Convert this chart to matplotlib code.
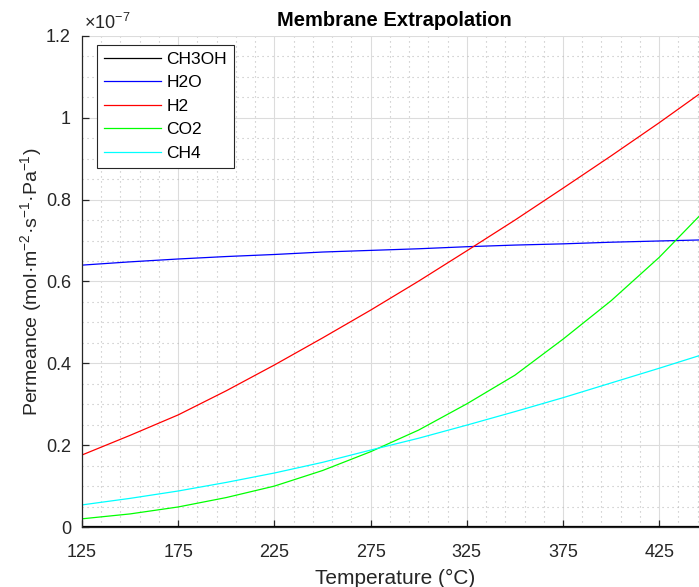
import matplotlib.pyplot as plt
from matplotlib.ticker import FixedLocator, MultipleLocator, FuncFormatter

plt.rcParams['font.family'] = ['Liberation Sans', 'DejaVu Sans']
plt.rcParams['mathtext.fontset'] = 'custom'
plt.rcParams['mathtext.rm'] = 'Liberation Sans'
plt.rcParams['mathtext.it'] = 'Liberation Sans:italic'

# Temperature points (°C)
temperatura = [125, 150, 175, 200, 225, 250, 275, 300, 325, 350, 375, 400, 425, 450]

# Permeance per species (x 1e-7 mol m^-2 s^-1 Pa^-1)
ch3oh = [0.003, 0.003, 0.003, 0.003, 0.003, 0.003, 0.003,
         0.003, 0.003, 0.003, 0.003, 0.003, 0.003, 0.003]
h2o = [0.640, 0.648, 0.655, 0.661, 0.666, 0.672, 0.676,
       0.680, 0.685, 0.689, 0.692, 0.696, 0.699, 0.702]
h2 = [0.176, 0.224, 0.274, 0.333, 0.396, 0.462, 0.530,
      0.601, 0.675, 0.750, 0.828, 0.907, 0.988, 1.072]
co2 = [0.020, 0.032, 0.049, 0.072, 0.100, 0.138, 0.184,
       0.237, 0.301, 0.371, 0.459, 0.553, 0.659, 0.780]
ch4 = [0.054, 0.070, 0.088, 0.109, 0.132, 0.158, 0.188,
       0.217, 0.249, 0.282, 0.316, 0.352, 0.388, 0.425]

series = [('CH3OH', ch3oh, 'k'), ('H2O', h2o, 'b'), ('H2', h2, 'r'),
          ('CO2', co2, '#00ff00'), ('CH4', ch4, '#00ffff')]

xticks = [125, 175, 225, 275, 325, 375, 425]

fig = plt.figure(figsize=(6.99, 5.87), dpi=100)
ax = fig.add_axes([0.1173, 0.1022, 0.8946, 0.8365])

for nombre, valores, color in series:
    ax.plot(temperatura, [v * 1e-7 for v in valores], color=color,
            lw=0.9, label=nombre)

ax.set_xlim(125, 450)
ax.set_ylim(0, 1.2e-7)
ax.xaxis.set_major_locator(FixedLocator(xticks))
ax.xaxis.set_minor_locator(FixedLocator(range(125, 451, 10)))
ax.yaxis.set_major_locator(MultipleLocator(0.2e-7))
ax.yaxis.set_minor_locator(MultipleLocator(0.05e-7))
ax.yaxis.set_major_formatter(FuncFormatter(lambda v, p: '%g' % round(v / 1e-7, 3)))

# exponent label above the y axis
ax.text(0.003, 1.006, r'$\times 10^{-7}$', transform=ax.transAxes,
        ha='left', va='bottom', fontsize=13, color='#262626')

ax.grid(which='major', color='#dcdcdc', lw=0.8, ls='-')
ax.grid(which='minor', color='#bcbcbc', lw=0.8, ls=(0, (1, 3.5)))
ax.set_axisbelow(True)

ax.spines['top'].set_visible(False)
ax.spines['right'].set_visible(False)
for lado in ['left', 'bottom']:
    ax.spines[lado].set_color('#262626')
    ax.spines[lado].set_linewidth(0.9)

ax.tick_params(which='major', direction='in', length=5, width=0.9,
               colors='#262626', labelsize=13)
ax.tick_params(axis='x', which='major', pad=12)
ax.tick_params(axis='y', which='major', pad=8)
ax.tick_params(which='minor', length=0)

ax.set_title('Membrane Extrapolation', fontsize=14.5, fontweight='bold', pad=7)
ax.set_xlabel('Temperature (°C)', fontsize=15, color='#262626', labelpad=6)
ax.set_ylabel('Permeance (mol·m$^{-2}$·s$^{-1}$·Pa$^{-1}$)',
              fontsize=14, color='#262626', labelpad=1)

leg = ax.legend(loc='upper left', bbox_to_anchor=(0.024, 0.982),
                borderaxespad=0, fontsize=12.5, handlelength=3.3,
                fancybox=False, framealpha=1, edgecolor='#262626',
                labelspacing=0.48, handletextpad=0.3, borderpad=0.4)
leg.get_frame().set_linewidth(0.8)

fig.savefig('out.png', dpi=100)
